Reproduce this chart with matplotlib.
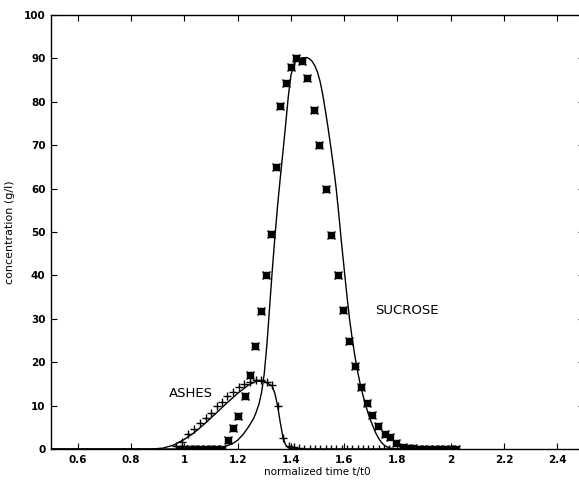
import matplotlib
matplotlib.use("Agg")
import matplotlib.pyplot as plt

# measured sucrose (asterisks)
sucrose_t = [0.98, 1.00, 1.02, 1.04, 1.06, 1.08, 1.10, 1.12, 1.14,
             1.163, 1.184, 1.202, 1.227, 1.246, 1.265, 1.287, 1.305, 1.325,
             1.343, 1.361, 1.381, 1.400, 1.421, 1.440, 1.462, 1.486, 1.507,
             1.530, 1.552, 1.575, 1.596, 1.619, 1.642, 1.662, 1.684, 1.705,
             1.727, 1.752, 1.771, 1.794, 1.821, 1.84, 1.86, 1.88, 1.90, 1.92,
             1.94, 1.96, 1.98, 2.00, 2.02]
sucrose_c = [0.0, 0.0, 0.0, 0.0, 0.0, 0.0, 0.0, 0.0, 0.1,
             2.1, 4.8, 7.7, 12.3, 17.1, 23.8, 31.7, 40.0, 49.6,
             65.0, 79.1, 84.3, 88.1, 90.0, 89.3, 85.4, 78.1, 70.0,
             59.8, 49.4, 40.2, 32.1, 24.9, 19.2, 14.2, 10.7, 7.9,
             5.4, 3.5, 2.7, 1.3, 0.5, 0.3, 0.2, 0.1, 0.1, 0.0,
             0.0, 0.0, 0.0, 0.0, 0.0]

# measured ashes (plus signs)
ashes_t = [0.97, 0.990, 1.015, 1.037, 1.059, 1.080, 1.100, 1.121, 1.142,
           1.162, 1.184, 1.205, 1.225, 1.246, 1.268, 1.287, 1.309, 1.330,
           1.350, 1.369, 1.392, 1.41, 1.43, 1.45, 1.47, 1.49, 1.51, 1.53,
           1.55, 1.57, 1.59, 1.61, 1.63, 1.65, 1.67, 1.69, 1.71, 1.73,
           1.75, 1.77]
ashes_c = [0.8, 1.7, 3.4, 4.6, 5.9, 7.1, 8.2, 9.8, 10.9,
           12.2, 13.2, 14.2, 14.9, 15.5, 15.9, 15.9, 15.4, 14.8,
           9.9, 2.6, 0.7, 0.4, 0.2, 0.1, 0.0, 0.0, 0.0, 0.0,
           0.0, 0.0, 0.0, 0.0, 0.0, 0.0, 0.0, 0.0, 0.0, 0.0,
           0.0, 0.0]

# model curves
sucrose_fit_t = [0.5, 1.10, 1.14, 1.18, 1.20, 1.22, 1.24, 1.26, 1.27, 1.28,
                 1.29, 1.30, 1.31, 1.32, 1.33, 1.34, 1.35, 1.36, 1.37, 1.38,
                 1.39, 1.40, 1.41, 1.42, 1.44, 1.46, 1.47, 1.48, 1.49, 1.50,
                 1.51, 1.52, 1.53, 1.54, 1.55, 1.56, 1.57, 1.58, 1.59, 1.60,
                 1.61, 1.62, 1.63, 1.64, 1.65, 1.66, 1.67, 1.68, 1.69, 1.70,
                 1.71, 1.72, 1.73, 1.74, 1.75, 1.76, 1.77, 1.78, 1.80, 2.02]
sucrose_fit_c = [0.0, 0.0, 0.3, 1.2, 2.0, 3.3, 5.0, 7.0, 8.5, 10.3,
                 13.0, 17.3, 24.0, 32.5, 41.0, 48.8, 56.0, 62.3, 68.3, 74.5,
                 81.0, 86.0, 88.5, 89.6, 90.1, 90.2, 89.9, 89.3, 88.3, 86.8,
                 84.6, 81.5, 77.8, 73.8, 69.5, 65.0, 60.0, 54.0, 47.5, 41.5,
                 35.5, 30.0, 25.5, 21.5, 18.0, 15.0, 12.5, 10.2, 8.2, 6.5,
                 4.9, 3.5, 2.4, 1.5, 0.9, 0.5, 0.25, 0.1, 0.0, 0.0]

ashes_fit_t = [0.5, 0.88, 0.92, 0.96, 1.00, 1.04, 1.08, 1.12, 1.16, 1.20,
               1.24, 1.27, 1.30, 1.33, 1.34, 1.35, 1.36, 1.37, 1.38, 1.39,
               1.41, 2.02]
ashes_fit_c = [0.0, 0.0, 0.2, 0.9, 2.2, 3.9, 6.0, 8.3, 10.6, 12.8,
               14.7, 15.6, 15.6, 14.5, 12.8, 10.0, 6.2, 2.8, 1.0, 0.3,
               0.0, 0.0]

x_ticks = [0.6, 0.8, 1.0, 1.2, 1.4, 1.6, 1.8, 2.0, 2.2, 2.4]
x_labels = ["0.6", "0.8", "1", "1.2", "1.4", "1.6", "1.8", "2", "2.2", "2.4"]
y_ticks = [0, 10, 20, 30, 40, 50, 60, 70, 80, 90, 100]

plt.rcParams["font.family"] = ["DejaVu Sans"]

fig = plt.figure(figsize=(5.79, 4.83), dpi=100)
ax = fig.add_axes([0.0881, 0.0704, 0.9206, 0.8986])

ax.plot(sucrose_fit_t, sucrose_fit_c, color="black", lw=1.0)
ax.plot(ashes_fit_t, ashes_fit_c, color="black", lw=1.0)
ax.plot(ashes_t, ashes_c, linestyle="none", marker="+", color="black",
        markersize=6, mew=1.0)
ax.plot(sucrose_t, sucrose_c, linestyle="none", marker="s", color="black",
        markersize=3.8)
ax.plot(sucrose_t, sucrose_c, linestyle="none", marker="x", color="black",
        markersize=5.5, mew=1.0)

ax.text(1.025, 12.7, "ASHES", fontsize=9.5, ha="center", va="center")
ax.text(1.837, 31.9, "SUCROSE", fontsize=9.5, ha="center", va="center")

ax.set_xlim(0.5, 2.5)
ax.set_ylim(0, 100)
ax.set_xticks(x_ticks)
ax.set_xticklabels(x_labels)
ax.set_yticks(y_ticks)
ax.tick_params(direction="in", top=True, right=True, labelsize=7.5,
               length=4, width=0.8, pad=4)
for lab in ax.get_xticklabels() + ax.get_yticklabels():
    lab.set_fontweight("bold")
for sp in ax.spines.values():
    sp.set_linewidth(1.0)

ax.set_xlabel("normalized time t/t0", fontsize=7.5, labelpad=2)
ax.set_ylabel("concentration (g/l)", fontsize=8, labelpad=6)

fig.savefig("out.png", dpi=100)
